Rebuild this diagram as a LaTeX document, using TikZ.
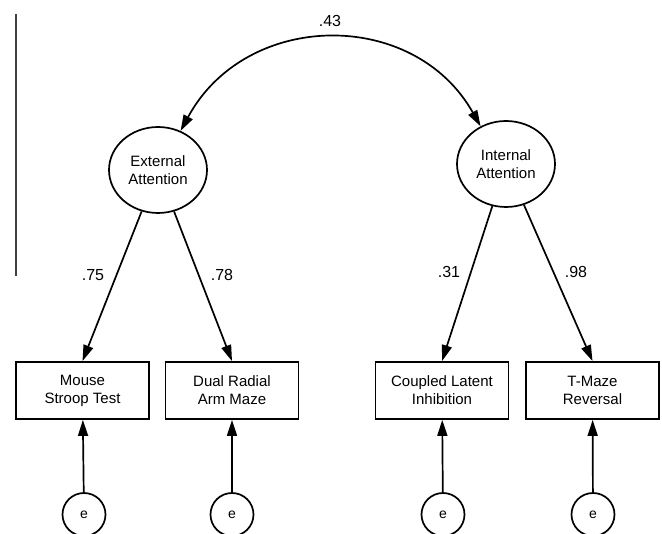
\documentclass[tikz,border=0pt]{standalone}
\usepackage{fontspec}
\setmainfont{Liberation Sans}
\usetikzlibrary{shapes.geometric,arrows.meta}
\begin{document}
\begin{tikzpicture}[x=1pt,y=-1pt,
  every node/.style={font=\fontsize{15}{18}\selectfont},
  latent/.style={draw,ellipse,line width=1.7pt,minimum width=98pt,minimum height=86pt,inner sep=0pt,align=center},
  measure/.style={draw,rectangle,line width=1.8pt,minimum width=133pt,minimum height=57pt,inner sep=0pt,align=center},
  errnode/.style={draw,circle,line width=1.7pt,minimum size=43pt,inner sep=0pt,font=\fontsize{14}{16}\selectfont},
  coef/.style={font=\fontsize{16}{18}\selectfont,inner sep=0pt},
  tip/.style={Triangle[length=16pt,width=10pt]},
  path/.style={line width=1.7pt,-{Triangle[length=16pt,width=10pt]}},
  covpath/.style={line width=1.7pt,{Triangle[length=16pt,width=10pt]}-{Triangle[length=16pt,width=10pt]}}]
\useasboundingbox (0,0) rectangle (662,534);

% side rule
\draw[line width=1.5pt,black!75] (16,14) -- (16,276);

% latent factors
\node[latent] (ext) at (158,170) {External\\Attention};
\node[latent] (int) at (506,164) {Internal\\Attention};

% observed measures
\node[measure] (m1) at (82.5,390.5) {Mouse\\Stroop Test};
\node[measure] (m2) at (232,390.5) {Dual Radial\\Arm Maze};
\node[measure] (m3) at (442,390.5) {Coupled Latent\\Inhibition};
\node[measure] (m4) at (592.5,390.5) {T-Maze\\Reversal};

% error terms
\node[errnode] (e1) at (84,514.5) {e};
\node[errnode] (e2) at (232,514.5) {e};
\node[errnode] (e3) at (443,514.5) {e};
\node[errnode] (e4) at (593,514.5) {e};

% factor covariance
\draw[covpath] (ext.60) .. controls (246,10) and (414,8) .. (int.124);
\node[coef] (c0) at (330,21) {.43};

% loadings
\draw[path] (ext) -- (m1.north);
\draw[path] (ext) -- (m2.north);
\draw[path] (int) -- (m3.north);
\draw[path] (int) -- (m4.north);
\node[coef] (c1) at (93,275) {.75};
\node[coef] (c2) at (222,275) {.78};
\node[coef] (c3) at (449,272) {.31};
\node[coef] (c4) at (576,272) {.98};

% residuals
\draw[path] (e1) -- (m1);
\draw[path] (e2) -- (m2);
\draw[path] (e3) -- (m3);
\draw[path] (e4) -- (m4);
\end{tikzpicture}
\end{document}
